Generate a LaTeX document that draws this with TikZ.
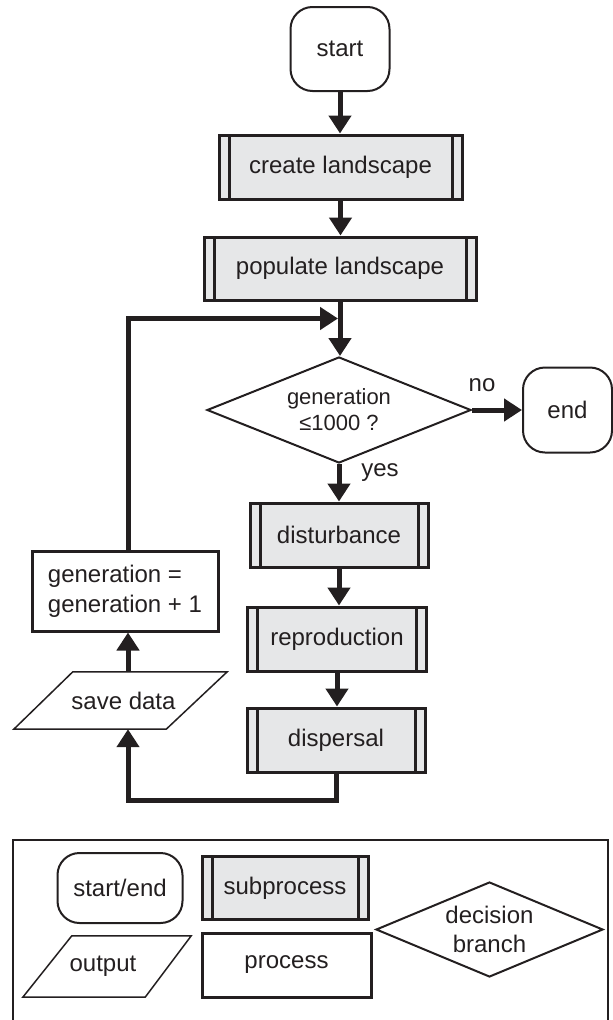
\documentclass[tikz,border=0pt]{standalone}
\usepackage{fontspec}
\setmainfont{Liberation Sans}
\usetikzlibrary{arrows.meta,shapes.geometric}
\definecolor{ink}{HTML}{231F20}
\definecolor{subfill}{HTML}{E6E7E8}
\begin{document}
\begin{tikzpicture}[x=1pt,y=-1pt,
  every node/.style={font=\fontsize{24}{30}\selectfont, text=ink, inner sep=0pt},
  term/.style={draw=ink, line width=2pt, rectangle, rounded corners=22pt},
  subbox/.style={draw=ink, line width=3pt, fill=subfill, rectangle,
    path picture={\draw[ink, line width=3pt]
      ([xshift=10pt]path picture bounding box.south west) -- ([xshift=10pt]path picture bounding box.north west)
      ([xshift=-10pt]path picture bounding box.south east) -- ([xshift=-10pt]path picture bounding box.north east);}},
  procbox/.style={draw=ink, line width=3pt, rectangle},
  iobox/.style={rectangle},
  ioline/.style={draw=ink, line width=1.5pt, line join=miter},
  decbox/.style={draw=ink, line width=2pt, diamond, aspect=2.5},
  arr/.style={draw=ink, line width=5pt, -{Triangle[length=18pt,width=22pt]}},
  lab/.style={font=\fontsize{24}{30}\selectfont}
]
\useasboundingbox (0,0) rectangle (613,1020);

% main flow
\node[term, minimum width=99pt, minimum height=84pt] (start) at (340,49) {start};
\node[subbox, minimum width=243pt, minimum height=64pt] (create) at (340.5,167) {create landscape};
\node[subbox, minimum width=272pt, minimum height=63pt] (pop) at (340,268.5) {populate landscape};
\node[decbox, minimum width=264pt, minimum height=106pt, align=center,
      font=\fontsize{22}{26}\selectfont] (dec) at (339,410) {generation\\≤1000 ?};
\node[term, minimum width=89pt, minimum height=85pt] (end) at (567.5,410) {end};
\node[subbox, minimum width=178pt, minimum height=64pt] (dist) at (339,535) {disturbance};
\node[subbox, minimum width=179pt, minimum height=64pt] (repro) at (337,639) {reproduction};
\node[subbox, minimum width=178pt, minimum height=64pt] (disp) at (336,740) {dispersal};
\node[procbox, minimum width=186pt, minimum height=80pt, align=left] (gen) at (125,591) {generation =\\generation + 1};
\node[iobox, minimum width=213pt, minimum height=57pt] (save) at (120.5,700.5) {\hspace*{6pt}save data};
\draw[ioline] (save.south west) -- ([xshift=-61pt]save.south east) -- (save.north east)
  -- ([xshift=59pt]save.north west) -- cycle;

\node[lab] (no) at (482,385) {no};
\node[lab] (yes) at (380,473) {yes};

\coordinate (lb) at (128,800);
\coordinate (lt) at (128,318.5);

\draw[arr] (start.south) -- (start.south |- create.north);
\draw[arr] (create.south) -- (create.south |- pop.north);
\draw[arr] (pop.south) -- (pop.south |- dec.north);
\draw[arr] (dec.east) -- (end.west);
\draw[arr] (dec.south) -- (dec.south |- dist.north);
\draw[arr] (dist.south) -- (dist.south |- repro.north);
\draw[arr] (repro.south) -- (repro.south |- disp.north);
\draw[arr] (disp.south) |- (lb) -- (lb |- save.south);
\draw[arr] (lb |- save.north) -- (lb |- gen.south);
\draw[arr] (lb |- gen.north) -- (lt) -- ([xshift=-2pt]lt -| pop.south);

% legend
\draw[ink, line width=2.5pt] (13,1020) -- (13,840) -- (608,840) -- (608,1020);
\node[term, minimum width=125pt, minimum height=70pt] (lterm) at (120,888) {start/end};
\node[subbox, minimum width=166pt, minimum height=63pt] (lsub) at (285,888) {subprocess};
\node[iobox, minimum width=168pt, minimum height=61pt] (lout) at (107,966.5) {\raisebox{-4pt}{output}\hspace*{8pt}};
\draw[ioline] (lout.south west) -- ([xshift=-46pt]lout.south east) -- (lout.north east)
  -- ([xshift=49pt]lout.north west) -- cycle;
\node[procbox, minimum width=169pt, minimum height=64pt] (lproc) at (286.5,965) {process};
\node[decbox, minimum width=227pt, minimum height=95pt, align=center,
      font=\fontsize{24}{29}\selectfont] (ldec) at (489.5,929.5) {decision\\branch};
\end{tikzpicture}
\end{document}
